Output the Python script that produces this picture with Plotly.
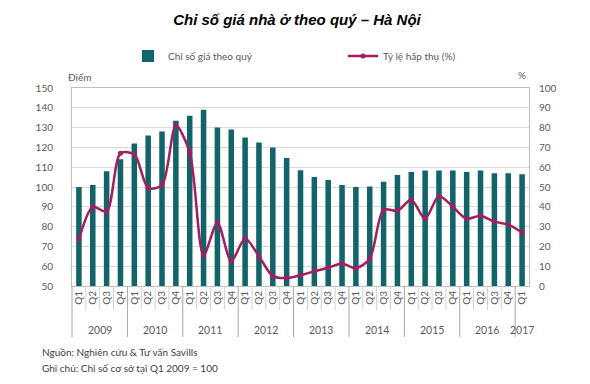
import plotly.graph_objects as go

# ---------------- data ----------------
years = ["2009", "2010", "2011", "2012", "2013", "2014", "2015", "2016", "2017"]
quarters_in_year = [4, 4, 4, 4, 4, 4, 4, 4, 1]

price_index = [100, 101, 108, 114, 122, 126, 128, 133.5,
               136, 139, 130, 129, 125, 122.5, 120, 114.7,
               108.5, 105, 103.5, 101, 100, 100.2, 102.6, 106,
               107.6, 108.3, 108.3, 108.3, 107.6, 108.3, 107, 107,
               106.5]

absorption = [23.5, 40, 37.5, 67, 66.5, 49.5, 51, 81,
              67.5, 15.5, 32, 12.5, 24, 15, 5, 4,
              5.4, 7.4, 9.2, 11.4, 9, 13.8, 38.5, 38,
              43.5, 34, 45.5, 40, 34, 35.5, 32.5, 31,
              27]

quarter_labels = []
for y, n in zip(years, quarters_in_year):
    for q in range(n):
        quarter_labels.append(f"Q{q+1}")
idx = list(range(len(quarter_labels)))
N = len(idx)

BAR = "#13646A"
LINE = "#A01F60"
FONT = "Lato, 'Open Sans', sans-serif"
TXT = "#595959"

fig = go.Figure()
fig.add_bar(x=idx, y=price_index, name="Chỉ số giá theo quý",
            marker=dict(color=BAR, line=dict(width=0)), width=0.4, yaxis="y")
fig.add_scatter(x=idx, y=absorption, name="Tỷ lệ hấp thụ (%)", mode="lines+markers",
                line=dict(color=LINE, width=2.5, shape="spline", smoothing=0.8),
                marker=dict(size=5, color=LINE), yaxis="y2")

# plot area in px
L, R, T, B = 72, 529, 88, 286
W, H = 590, 384
pw, ph = R - L, B - T

def py(ypx):
    return (B - ypx) / ph

def px(xpx):
    return (xpx - L) / pw

shapes = []
year_bounds = set()
c = 0
for n in quarters_in_year[:-1]:
    c += n
    year_bounds.add(c)
for k in range(1, N):
    xp = k / N
    if k in year_bounds:
        shapes.append(dict(type="line", xref="paper", yref="paper", x0=xp, x1=xp,
                           y0=0, y1=py(337), line=dict(color="#a6a6a6", width=1)))
    else:
        shapes.append(dict(type="line", xref="paper", yref="paper", x0=xp, x1=xp,
                           y0=0, y1=py(310), line=dict(color="#d0d0d0", width=1)))
shapes.append(dict(type="line", xref="paper", yref="paper", x0=0, x1=0,
                   y0=0, y1=py(337), line=dict(color="#a6a6a6", width=1)))

annotations = []
start = 0
for y, n in zip(years, quarters_in_year):
    center = start + (n - 1) / 2
    annotations.append(dict(text=y, x=center, xref="x", y=py(330), yref="paper",
                            showarrow=False, xanchor="center", yanchor="middle",
                            font=dict(family=FONT, size=10.5, color=TXT)))
    start += n

annotations += [
    dict(text="Điểm", x=px(80), y=py(77), xref="paper", yref="paper", showarrow=False,
         xanchor="center", yanchor="middle", font=dict(family=FONT, size=10, color=TXT)),
    dict(text="%", x=px(522), y=py(75), xref="paper", yref="paper", showarrow=False,
         xanchor="center", yanchor="middle", font=dict(family=FONT, size=10, color=TXT)),
    dict(text="Nguồn: Nghiên cứu & Tư vấn Savills", x=px(40), y=py(352), xref="paper",
         yref="paper", showarrow=False, xanchor="left", yanchor="middle",
         font=dict(family=FONT, size=10, color="#404040")),
    dict(text="Ghi chú: Chỉ số cơ sở tại Q1 2009 = 100", x=px(40), y=py(368), xref="paper",
         yref="paper", showarrow=False, xanchor="left", yanchor="middle",
         font=dict(family=FONT, size=10, color="#404040")),
]

fig.update_layout(
    width=W, height=H,
    margin=dict(l=L, r=W - R, t=T, b=H - B, pad=0),
    paper_bgcolor="white", plot_bgcolor="white",
    title=dict(text="<b><i>Chỉ số giá nhà ở theo quý – Hà Nội</i></b>",
               x=297 / W, xref="container", xanchor="center",
               y=1 - 20 / H, yref="container", yanchor="middle",
               font=dict(family="Liberation Sans, Arial, sans-serif", size=15, color="black")),
    showlegend=True,
    legend=dict(orientation="h", x=px(128), xanchor="left", y=py(56), yanchor="middle",
                font=dict(family=FONT, size=10, color=TXT),
                entrywidth=170, entrywidthmode="pixels",
                bgcolor="rgba(0,0,0,0)", itemwidth=30),
    xaxis=dict(range=[-0.5, N - 0.5], tickmode="array", tickvals=idx, ticktext=quarter_labels,
               tickangle=-90, showgrid=False, zeroline=False, showline=True, mirror=True,
               linecolor="#bfbfbf", linewidth=1, ticks="",
               tickfont=dict(family=FONT, size=10, color=TXT)),
    yaxis=dict(range=[50, 150], dtick=10, tick0=50, showgrid=True, gridcolor="#d9d9d9",
               zeroline=False, showline=True, linecolor="#bfbfbf", ticks="",
               ticklabelstandoff=16, tickfont=dict(family=FONT, size=10, color=TXT)),
    yaxis2=dict(range=[0, 100], dtick=10, tick0=0, overlaying="y", side="right",
                showgrid=False, zeroline=False, showline=True, linecolor="#bfbfbf", ticks="",
                ticklabelstandoff=7, tickfont=dict(family=FONT, size=10, color=TXT)),
    shapes=shapes,
    annotations=annotations,
)

fig.write_html("out.html", config={"displayModeBar": False},
               post_script="document.body.style.margin='0px';")
